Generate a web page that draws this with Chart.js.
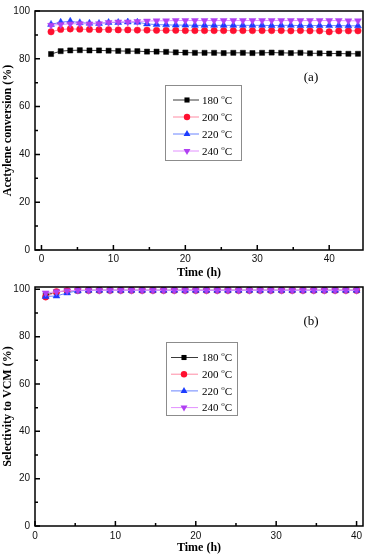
<!DOCTYPE html>
<html>
<head>
<meta charset="utf-8">
<script src="https://cdn.jsdelivr.net/npm/chart.js@4.4.1/dist/chart.umd.min.js"></script>
<style>
  html, body { margin: 0; padding: 0; background: #fff; }
  #wrap { position: relative; width: 368px; height: 557px; overflow: hidden; }
  canvas { position: absolute; left: 0; }
  #chartA { top: 0; }
  #chartB { top: 276px; }
</style>
</head>
<body>
<div id="wrap">
  <canvas id="chartA" width="368" height="280"></canvas>
  <canvas id="chartB" width="368" height="281"></canvas>
</div>
<script>
// series names (temperature, deg C)
const seriesTemps = ['180', '200', '220', '240'];

// panel (a): acetylene conversion vs time
const timeA = [1.33, 2.67, 4, 5.33, 6.67, 8, 9.33, 10.67, 12, 13.33, 14.67, 16, 17.33, 18.67, 20, 21.33,
  22.67, 24, 25.33, 26.67, 28, 29.33, 30.67, 32, 33.33, 34.67, 36, 37.33, 38.67, 40, 41.33, 42.67, 44];
const conv180 = [82.0, 83.2, 83.5, 83.6, 83.5, 83.5, 83.4, 83.3, 83.2, 83.2, 83.0, 83.0, 82.9, 82.7, 82.6, 82.5,
  82.5, 82.5, 82.4, 82.5, 82.5, 82.4, 82.5, 82.6, 82.5, 82.4, 82.5, 82.3, 82.3, 82.2, 82.2, 82.1, 82.1];
const conv200 = [91.3, 92.3, 92.5, 92.4, 92.3, 92.2, 92.2, 92.1, 92.1, 92.0, 92.0, 91.9, 91.9, 91.9, 91.8, 91.8,
  91.8, 91.8, 91.8, 91.8, 91.8, 91.8, 91.8, 91.8, 91.8, 91.7, 91.8, 91.7, 91.7, 91.3, 91.7, 91.7, 91.7];
const conv220 = [94.4, 95.3, 95.7, 95.1, 94.9, 94.8, 95.2, 95.2, 95.4, 95.3, 94.6, 94.3, 94.2, 94.1, 94.1, 94.0,
  94.0, 94.0, 94.0, 94.0, 94.0, 94.0, 94.0, 93.9, 94.0, 94.0, 93.9, 93.9, 93.9, 93.9, 93.9, 93.8, 93.8];
const conv240 = [94.0, 94.4, 94.6, 94.7, 94.6, 94.7, 95.2, 95.4, 95.4, 95.6, 95.8, 95.9, 95.9, 96.0, 96.0, 96.0,
  96.0, 96.0, 96.0, 96.0, 96.0, 96.0, 96.0, 96.0, 96.0, 96.0, 96.0, 96.0, 96.0, 96.0, 96.0, 95.9, 95.9];

// panel (b): selectivity to VCM vs time
const timeB = [1.33, 2.67, 4, 5.33, 6.67, 8, 9.33, 10.67, 12, 13.33, 14.67, 16, 17.33, 18.67, 20, 21.33,
  22.67, 24, 25.33, 26.67, 28, 29.33, 30.67, 32, 33.33, 34.67, 36, 37.33, 38.67, 40];
const sel180 = [97.5, 98.9, 99.3, 99.5, 99.6, 99.6, 99.6, 99.6, 99.6, 99.6, 99.6, 99.6, 99.6, 99.6, 99.6,
  99.6, 99.6, 99.6, 99.6, 99.6, 99.6, 99.6, 99.6, 99.6, 99.6, 99.6, 99.6, 99.6, 99.6, 99.6];
const sel200 = [96.8, 99.0, 99.4, 99.6, 99.6, 99.6, 99.6, 99.6, 99.6, 99.6, 99.6, 99.6, 99.6, 99.6, 99.6,
  99.6, 99.6, 99.6, 99.6, 99.6, 99.6, 99.6, 99.6, 99.6, 99.6, 99.6, 99.6, 99.6, 99.6, 99.6];
const sel220 = [97.0, 97.2, 98.5, 99.4, 99.6, 99.6, 99.6, 99.6, 99.6, 99.6, 99.6, 99.6, 99.6, 99.6, 99.6,
  99.6, 99.6, 99.6, 99.6, 99.6, 99.6, 99.6, 99.6, 99.6, 99.6, 99.6, 99.6, 99.6, 99.6, 99.6];
const sel240 = [98.5, 99.0, 99.4, 99.6, 99.6, 99.6, 99.6, 99.6, 99.6, 99.6, 99.6, 99.6, 99.6, 99.6, 99.6,
  99.6, 99.6, 99.6, 99.6, 99.6, 99.6, 99.6, 99.6, 99.6, 99.6, 99.6, 99.6, 99.6, 99.6, 99.6];

// tick values
const xMajorTicks = [0, 10, 20, 30, 40];
const xMinorTicks = [5, 15, 25, 35];
const yMajorTicks = [0, 20, 40, 60, 80, 100];
const yMinorTicks = [10, 30, 50, 70, 90];

// look of each series
const looks = [
  { line: '#3a3a3a', mark: '#000000', shape: 'rect', r: 3.6, rot: 0 },
  { line: '#ff8ca4', mark: '#ff1030', shape: 'circle', r: 3.2, rot: 0 },
  { line: '#6a84ff', mark: '#1c3cff', shape: 'triangle', r: 4, rot: 0 },
  { line: '#e290ff', mark: '#b040f2', shape: 'triangle', r: 4, rot: 180 }
];

function makeDatasets(times, lists) {
  return lists.map((vals, i) => ({
    label: seriesTemps[i],
    data: vals.map((v, k) => ({ x: times[k], y: v })),
    borderColor: looks[i].line,
    backgroundColor: looks[i].mark,
    pointBackgroundColor: looks[i].mark,
    pointBorderColor: looks[i].mark,
    pointBorderWidth: 0.5,
    borderWidth: 1,
    pointStyle: looks[i].shape,
    pointRadius: looks[i].r,
    pointRotation: looks[i].rot,
    order: 4 - i,
    tension: 0
  }));
}

function drawMarker(ctx, look, x, y) {
  ctx.fillStyle = look.mark;
  const r = look.r;
  ctx.beginPath();
  if (look.shape === 'rect') {
    const s = r * Math.SQRT1_2;
    ctx.rect(x - s, y - s, 2 * s, 2 * s);
  } else if (look.shape === 'circle') {
    ctx.arc(x, y, r, 0, Math.PI * 2);
  } else {
    const dir = look.rot ? -1 : 1;
    ctx.moveTo(x, y - dir * r);
    ctx.lineTo(x + r * 0.866, y + dir * r * 0.5);
    ctx.lineTo(x - r * 0.866, y + dir * r * 0.5);
    ctx.closePath();
  }
  ctx.fill();
}

// frame, inward ticks, panel tag and legend
const decor = {
  id: 'decor',
  afterDatasetsDraw(chart, args, opts) {
    const { ctx, chartArea: a } = chart;
    const x = chart.scales.x, y = chart.scales.y;
    ctx.save();
    ctx.strokeStyle = '#000';
    ctx.lineWidth = 1.5;
    ctx.beginPath();
    xMajorTicks.forEach(v => { const p = x.getPixelForValue(v); ctx.moveTo(p, a.bottom); ctx.lineTo(p, a.bottom - 5); });
    xMinorTicks.forEach(v => { const p = x.getPixelForValue(v); ctx.moveTo(p, a.bottom); ctx.lineTo(p, a.bottom - 3); });
    yMajorTicks.forEach(v => { const p = y.getPixelForValue(v); ctx.moveTo(a.left, p); ctx.lineTo(a.left + 5, p); });
    yMinorTicks.forEach(v => { const p = y.getPixelForValue(v); ctx.moveTo(a.left, p); ctx.lineTo(a.left + 3, p); });
    ctx.stroke();
    ctx.strokeRect(a.left, a.top, a.width, a.height);

    ctx.fillStyle = '#000';
    ctx.font = '13px "Liberation Serif"';
    ctx.textAlign = 'center';
    ctx.textBaseline = 'middle';
    ctx.fillText(opts.tag, opts.tagX, opts.tagY);

    const L = opts.legend;
    ctx.fillStyle = '#fff';
    ctx.fillRect(L.x, L.y, L.w, L.h);
    ctx.strokeStyle = '#8c8c8c';
    ctx.lineWidth = 1;
    ctx.strokeRect(L.x + 0.5, L.y + 0.5, L.w, L.h);
    ctx.textAlign = 'left';
    seriesTemps.forEach((t, i) => {
      const cy = L.y + L.first + i * L.step;
      ctx.strokeStyle = looks[i].line;
      ctx.lineWidth = 1;
      ctx.beginPath();
      ctx.moveTo(L.x + L.x0, cy);
      ctx.lineTo(L.x + L.x1, cy);
      ctx.stroke();
      drawMarker(ctx, looks[i], L.x + L.mx, cy);
      ctx.fillStyle = '#000';
      let tx = L.x + L.tx;
      ctx.font = '11px "Liberation Serif"';
      ctx.fillText(t + ' ', tx, cy + 1);
      tx += ctx.measureText(t + ' ').width;
      ctx.font = '7px "Liberation Serif"';
      ctx.fillText('o', tx, cy - 3);
      tx += ctx.measureText('o').width;
      ctx.font = '11px "Liberation Serif"';
      ctx.fillText('C', tx, cy + 1);
    });
    ctx.restore();
  }
};

const tickFont = { family: '"Liberation Sans", Arial, sans-serif', size: 10 };
const titleFont = { family: '"Liberation Serif", "Times New Roman", serif', size: 12, weight: 'bold' };

function makeOptions(cfg) {
  return {
    responsive: false,
    animation: false,
    layout: { padding: { top: cfg.padTop, right: 5, left: 0, bottom: 0 } },
    plugins: {
      legend: { display: false },
      tooltip: { enabled: false },
      decor: cfg.decor
    },
    scales: {
      x: {
        type: 'linear',
        min: cfg.xMin,
        max: cfg.xMax,
        afterBuildTicks: s => { s.ticks = xMajorTicks.map(v => ({ value: v })); },
        afterFit: s => { s.height = cfg.xAxisH; },
        grid: { display: false, drawTicks: false },
        border: { display: false },
        ticks: { padding: cfg.xPad, color: '#111', font: tickFont, maxRotation: 0, autoSkip: false },
        title: { display: true, text: 'Time (h)', color: '#000', font: titleFont, padding: { top: 0, bottom: cfg.titlePad } }
      },
      y: {
        min: 0,
        max: cfg.yMax,
        afterBuildTicks: s => { s.ticks = yMajorTicks.map(v => ({ value: v })); },
        afterFit: s => { s.width = 35; },
        grid: { display: false, drawTicks: false },
        border: { display: false },
        ticks: { padding: 5, color: '#111', font: tickFont, autoSkip: false },
        title: { display: true, text: cfg.yTitle, color: '#000', font: titleFont, padding: { top: 1, bottom: 0 } }
      }
    }
  };
}

new Chart(document.getElementById('chartA'), {
  type: 'line',
  data: { datasets: makeDatasets(timeA, [conv180, conv200, conv220, conv240]) },
  options: makeOptions({
    padTop: 6, xMin: -0.9, xMax: 44.7, yMax: 100, xAxisH: 30, xPad: 3, titlePad: 0,
    yTitle: 'Acetylene conversion (%)',
    decor: {
      tag: '(a)', tagX: 311, tagY: 78,
      legend: { x: 165, y: 85, w: 76, h: 75, first: 15, step: 17, x0: 8, x1: 34, mx: 22, tx: 37 }
    }
  }),
  plugins: [decor]
});

new Chart(document.getElementById('chartB'), {
  type: 'line',
  data: { datasets: makeDatasets(timeB, [sel180, sel200, sel220, sel240]) },
  options: makeOptions({
    padTop: 7, xMin: 0, xMax: 40.8, yMax: 101, xAxisH: 31, xPad: 4, titlePad: 2,
    yTitle: 'Selectivity to VCM (%)',
    decor: {
      tag: '(b)', tagX: 311, tagY: 46,
      legend: { x: 166, y: 66, w: 71, h: 73, first: 15.5, step: 16.7, x0: 5, x1: 32, mx: 18, tx: 36 }
    }
  }),
  plugins: [decor]
});
</script>
</body>
</html>
